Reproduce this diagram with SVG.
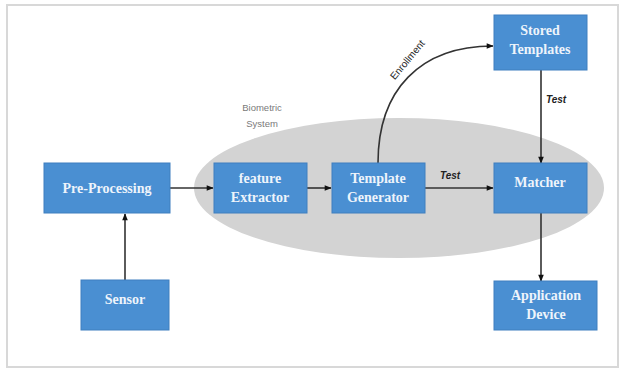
<svg xmlns="http://www.w3.org/2000/svg" width="623" height="374" viewBox="0 0 623 374">
<style>
.box{fill:#4a8fd2;stroke:#3f7fbf;stroke-width:1}
.lbl{font-family:"Liberation Serif",serif;font-weight:bold;font-size:14px;fill:#eef4fb;text-anchor:middle}
.edge{fill:none;stroke:#333;stroke-width:1.6}
.small{font-family:"Liberation Sans",Arial,sans-serif;font-size:10px;fill:#222}
.sys{font-family:"Liberation Sans",Arial,sans-serif;font-size:9.5px;fill:#7a7a7a;text-anchor:middle}
</style>
<defs>
<marker id="arr" viewBox="0 0 10 10" refX="9" refY="5" markerWidth="8" markerHeight="7" orient="auto" markerUnits="userSpaceOnUse">
<path d="M0,1 L10,5 L0,9 Z" fill="#111"/>
</marker>
</defs>
<rect x="0" y="0" width="623" height="374" fill="#fff"/>
<rect x="7" y="5" width="611" height="362" fill="#fff" stroke="#d8d8d8" stroke-width="2"/>
<g id="biometric-system">
<ellipse cx="399" cy="188" rx="205" ry="70" fill="#d3d3d3"/>
<text class="sys" x="262" y="111">Biometric</text>
<text class="sys" x="262" y="127">System</text>
</g>
<g id="connectors">
<line class="edge" x1="125" y1="280" x2="125" y2="214" marker-end="url(#arr)"/>
<line class="edge" x1="170" y1="188" x2="213" y2="188" marker-end="url(#arr)"/>
<line class="edge" x1="307" y1="188" x2="331" y2="188" marker-end="url(#arr)"/>
<line class="edge" x1="425" y1="188" x2="493" y2="188" marker-end="url(#arr)"/>
<path class="edge" d="M378,163 C378,90 420,46 493,46" marker-end="url(#arr)"/>
<line class="edge" x1="541" y1="70" x2="541" y2="163" marker-end="url(#arr)"/>
<line class="edge" x1="541" y1="213" x2="541" y2="281" marker-end="url(#arr)"/>
<text class="small" x="0" y="0" transform="translate(410,62) rotate(-50)" text-anchor="middle" font-size="10.5">Enrollment</text>
<text class="small" x="450" y="179" text-anchor="middle" font-style="italic" font-weight="bold">Test</text>
<text class="small" x="556" y="103" text-anchor="middle" font-style="italic" font-weight="bold">Test</text>
</g>
<g id="pre-processing">
<rect class="box" x="44" y="163" width="126" height="50"/>
<text class="lbl" x="107" y="193">Pre-Processing</text>
</g>
<g id="sensor">
<rect class="box" x="81" y="280" width="88" height="50"/>
<text class="lbl" x="125" y="304">Sensor</text>
</g>
<g id="feature-extractor">
<rect class="box" x="214" y="163" width="93" height="50"/>
<text class="lbl" x="260" y="183">feature</text>
<text class="lbl" x="260" y="202">Extractor</text>
</g>
<g id="template-generator">
<rect class="box" x="332" y="163" width="93" height="50"/>
<text class="lbl" x="378" y="183">Template</text>
<text class="lbl" x="378" y="202">Generator</text>
</g>
<g id="matcher">
<rect class="box" x="494" y="163" width="93" height="50"/>
<text class="lbl" x="540" y="187">Matcher</text>
</g>
<g id="stored-templates">
<rect class="box" x="494" y="15" width="93" height="55"/>
<text class="lbl" x="540" y="35">Stored</text>
<text class="lbl" x="540" y="54">Templates</text>
</g>
<g id="application-device">
<rect class="box" x="494" y="281" width="103" height="49"/>
<text class="lbl" x="546" y="300">Application</text>
<text class="lbl" x="546" y="319">Device</text>
</g>
</svg>
